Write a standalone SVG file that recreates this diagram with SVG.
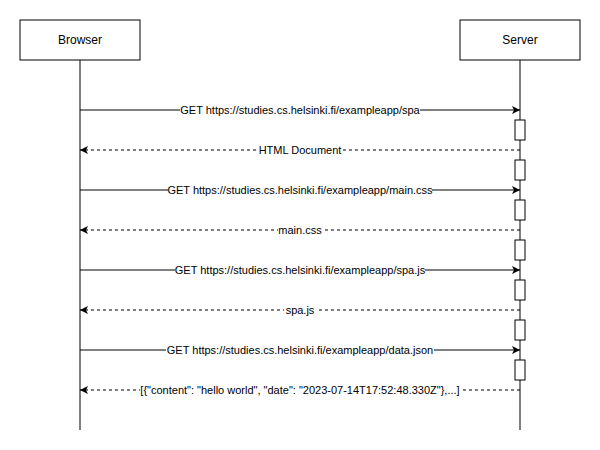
<svg xmlns="http://www.w3.org/2000/svg" width="600" height="450" viewBox="0 0 600 450">
<defs>
<style>
.box{fill:#fff;stroke:#000;stroke-width:1}
.life{stroke:#000;stroke-width:1;fill:none}
.act{fill:#fff;stroke:#000;stroke-width:1}
.req{stroke:#000;stroke-width:1;fill:none;marker-end:url(#ah)}
.res{stroke:#000;stroke-width:1;fill:none;stroke-dasharray:3 3;marker-end:url(#ah)}
.t{font-family:"Liberation Sans",Arial,sans-serif;font-size:12px;fill:#000;text-anchor:middle}
.lbl{font-family:"Liberation Sans",Arial,sans-serif;font-size:11px;fill:#000;text-anchor:middle}
.bg{fill:#fff}
</style>
<marker id="ah" markerWidth="10" markerHeight="10" refX="8" refY="4" orient="auto" markerUnits="userSpaceOnUse">
<path d="M0,0 L8,4 L0,8 L2,4 z" fill="#000"/>
</marker>
</defs>
<rect width="600" height="450" fill="#fff"/>
<g id="browser">
<rect class="box" x="20" y="20" width="120" height="40"/>
<text class="t" x="80" y="44">Browser</text>
<line class="life" x1="80" y1="60" x2="80" y2="430"/>
</g>
<g id="server">
<rect class="box" x="460" y="20" width="120" height="40"/>
<text class="t" x="520" y="44">Server</text>
<line class="life" x1="520" y1="60" x2="520" y2="430"/>
<rect class="act" x="515" y="120" width="10" height="20"/>
<rect class="act" x="515" y="160" width="10" height="20"/>
<rect class="act" x="515" y="200" width="10" height="20"/>
<rect class="act" x="515" y="240" width="10" height="20"/>
<rect class="act" x="515" y="280" width="10" height="20"/>
<rect class="act" x="515" y="320" width="10" height="20"/>
<rect class="act" x="515" y="360" width="10" height="20"/>
</g>
<g id="connectors">
<line class="req" x1="80" y1="110" x2="520" y2="110"/>
<rect class="bg" x="180" y="104" width="240" height="12"/>
<text class="lbl" x="300" y="114">GET https://studies.cs.helsinki.fi/exampleapp/spa</text>
<line class="res" x1="520" y1="150" x2="80" y2="150"/>
<rect class="bg" x="258" y="144" width="84" height="12"/>
<text class="lbl" x="300" y="154">HTML Document</text>
<line class="req" x1="80" y1="190" x2="520" y2="190"/>
<rect class="bg" x="168" y="184" width="264" height="12"/>
<text class="lbl" x="300" y="194">GET https://studies.cs.helsinki.fi/exampleapp/main.css</text>
<line class="res" x1="520" y1="230" x2="80" y2="230"/>
<rect class="bg" x="278" y="224" width="44" height="12"/>
<text class="lbl" x="300" y="234">main.css</text>
<line class="req" x1="80" y1="270" x2="520" y2="270"/>
<rect class="bg" x="175" y="264" width="250" height="12"/>
<text class="lbl" x="300" y="274">GET https://studies.cs.helsinki.fi/exampleapp/spa.js</text>
<line class="res" x1="520" y1="310" x2="80" y2="310"/>
<rect class="bg" x="284" y="304" width="32" height="12"/>
<text class="lbl" x="300" y="314">spa.js</text>
<line class="req" x1="80" y1="350" x2="520" y2="350"/>
<rect class="bg" x="166" y="344" width="268" height="12"/>
<text class="lbl" x="300" y="354">GET https://studies.cs.helsinki.fi/exampleapp/data.json</text>
<line class="res" x1="520" y1="390" x2="80" y2="390"/>
<rect class="bg" x="140" y="384" width="320" height="12"/>
<text class="lbl" x="300" y="394">[{"content": "hello world", "date": "2023-07-14T17:52:48.330Z"},...]</text>
</g>
</svg>
